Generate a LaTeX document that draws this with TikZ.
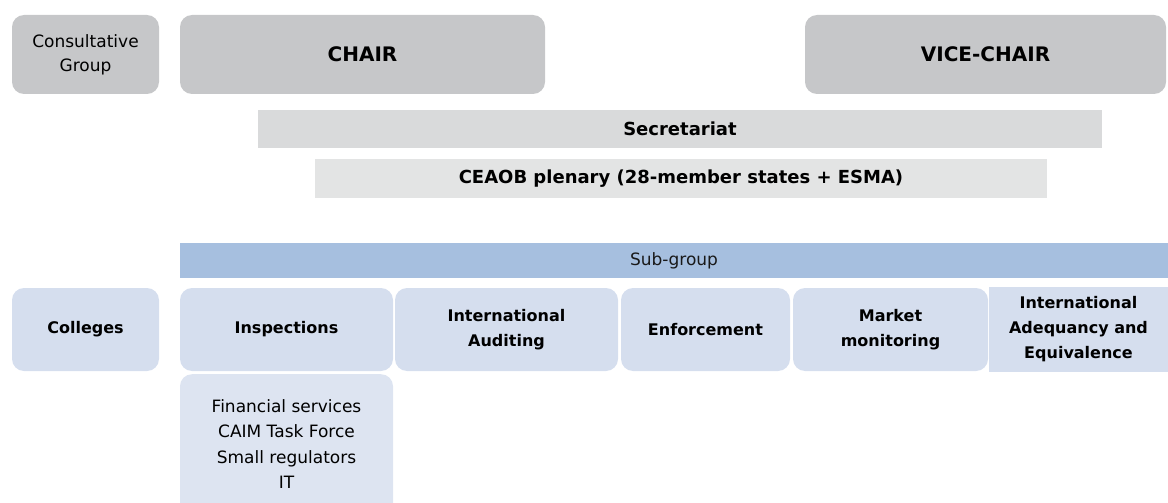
\documentclass[tikz,border=0pt]{standalone}
\usepackage{fontspec}
\setmainfont{DejaVu Sans}
\definecolor{chairgrey}{HTML}{C6C7C9}
\definecolor{secgrey}{HTML}{D9DADB}
\definecolor{plengrey}{HTML}{E3E4E4}
\definecolor{barblue}{HTML}{A6BFDF}
\definecolor{groupblue}{HTML}{D5DEEE}
\definecolor{listblue}{HTML}{DDE4F1}

\begin{document}
\begin{tikzpicture}[x=1pt,y=-1pt,
        tile/.style={inner sep=0pt,align=center,text=black},
        head/.style={tile,fill=chairgrey,rounded corners=12pt,minimum height=79pt},
        band/.style={tile,font=\fontsize{18}{24}\selectfont\bfseries},
        group/.style={tile,fill=groupblue,rounded corners=12pt,minimum height=83pt,
            font=\fontsize{16}{25}\selectfont\bfseries},
        plain/.style={font=\fontsize{17}{24}\selectfont}]
                \useasboundingbox (0,0) rectangle (1168,503);
                \clip (0,0) rectangle (1168,503);
                \node[head,plain,minimum width=147pt] (consult) at (85.5,54.5) {Consultative\\Group};
                \node[head,minimum width=365pt,font=\fontsize{20}{24}\selectfont\bfseries] (chair) at (362.5,54.5) {CHAIR};
                \node[head,minimum width=361pt,font=\fontsize{20}{24}\selectfont\bfseries] (vicechair) at (985.5,54.5) {VICE-CHAIR};
                \node[band,fill=secgrey,minimum width=844pt,minimum height=38pt] (secretariat) at (680,129) {Secretariat};
                \node[band,fill=plengrey,minimum width=732pt,minimum height=39pt] (plenary) at (681,178.5) {CEAOB plenary (28-member states + ESMA)};
                \node[tile,plain,fill=barblue,minimum width=988pt,minimum height=35pt,text=black!90] (subgroup) at (674,260.5) {Sub-group};
                \node[group,minimum width=147pt] (colleges) at (85.5,329.5) {Colleges};
                \node[group,minimum width=213pt] (inspections) at (286.5,329.5) {Inspections};
                \node[group,minimum width=223pt] (intauditing) at (506.5,329.5) {International\\Auditing};
                \node[group,minimum width=169pt] (enforcement) at (705.5,329.5) {Enforcement};
                \node[group,minimum width=195pt] (market) at (890.5,329.5) {Market\\monitoring};
                \node[group,sharp corners,minimum width=179pt,minimum height=85pt] (adequacy) at (1078.5,329.5) {International\\Adequancy and\\Equivalence};
                \node[tile,fill=listblue,rounded corners=12pt,minimum width=213pt,minimum height=150pt,anchor=north] (listbox) at (286.5,374) {};
                \node[tile,plain,font=\fontsize{17}{25.3}\selectfont] (inspectlist) at (286.5,444) {Financial services\\CAIM Task Force\\Small regulators\\IT};
            \end{tikzpicture}
\end{document}
